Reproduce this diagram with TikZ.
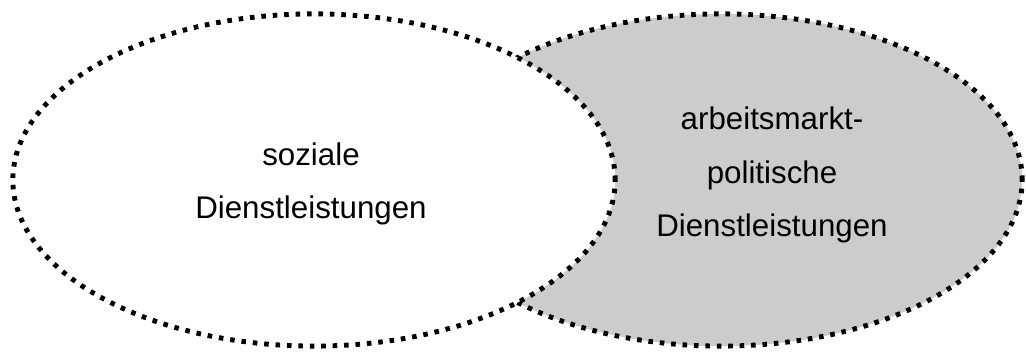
\documentclass[tikz,border=0pt]{standalone}
\usepackage{fontspec}
\setmainfont{Liberation Sans}
\usetikzlibrary{shapes.geometric}
\definecolor{fieldgray}{RGB}{204,204,204}

\begin{document}
\begin{tikzpicture}[x=0.01cm, y=0.01cm,
  field/.style = {ellipse, draw, line width=1.4pt, dash pattern=on 1.3pt off 1.95pt,
                  inner sep=0pt, minimum width=6.02cm, minimum height=3.32cm},
  label/.style = {align=center, font=\fontsize{8.9pt}{15.1pt}\selectfont}]

\useasboundingbox (0,0) rectangle (1026,351);

\node[field, fill=fieldgray] (markt) at (721,171) {};
\node[field, fill=white] (sozial) at (314,171) {};

\node[label] (sozialtext) at (311,167.5) {soziale\\Dienstleistungen};
\node[label] (markttext) at (772,176) {arbeitsmarkt-\\politische\\Dienstleistungen};

\end{tikzpicture}
\end{document}
